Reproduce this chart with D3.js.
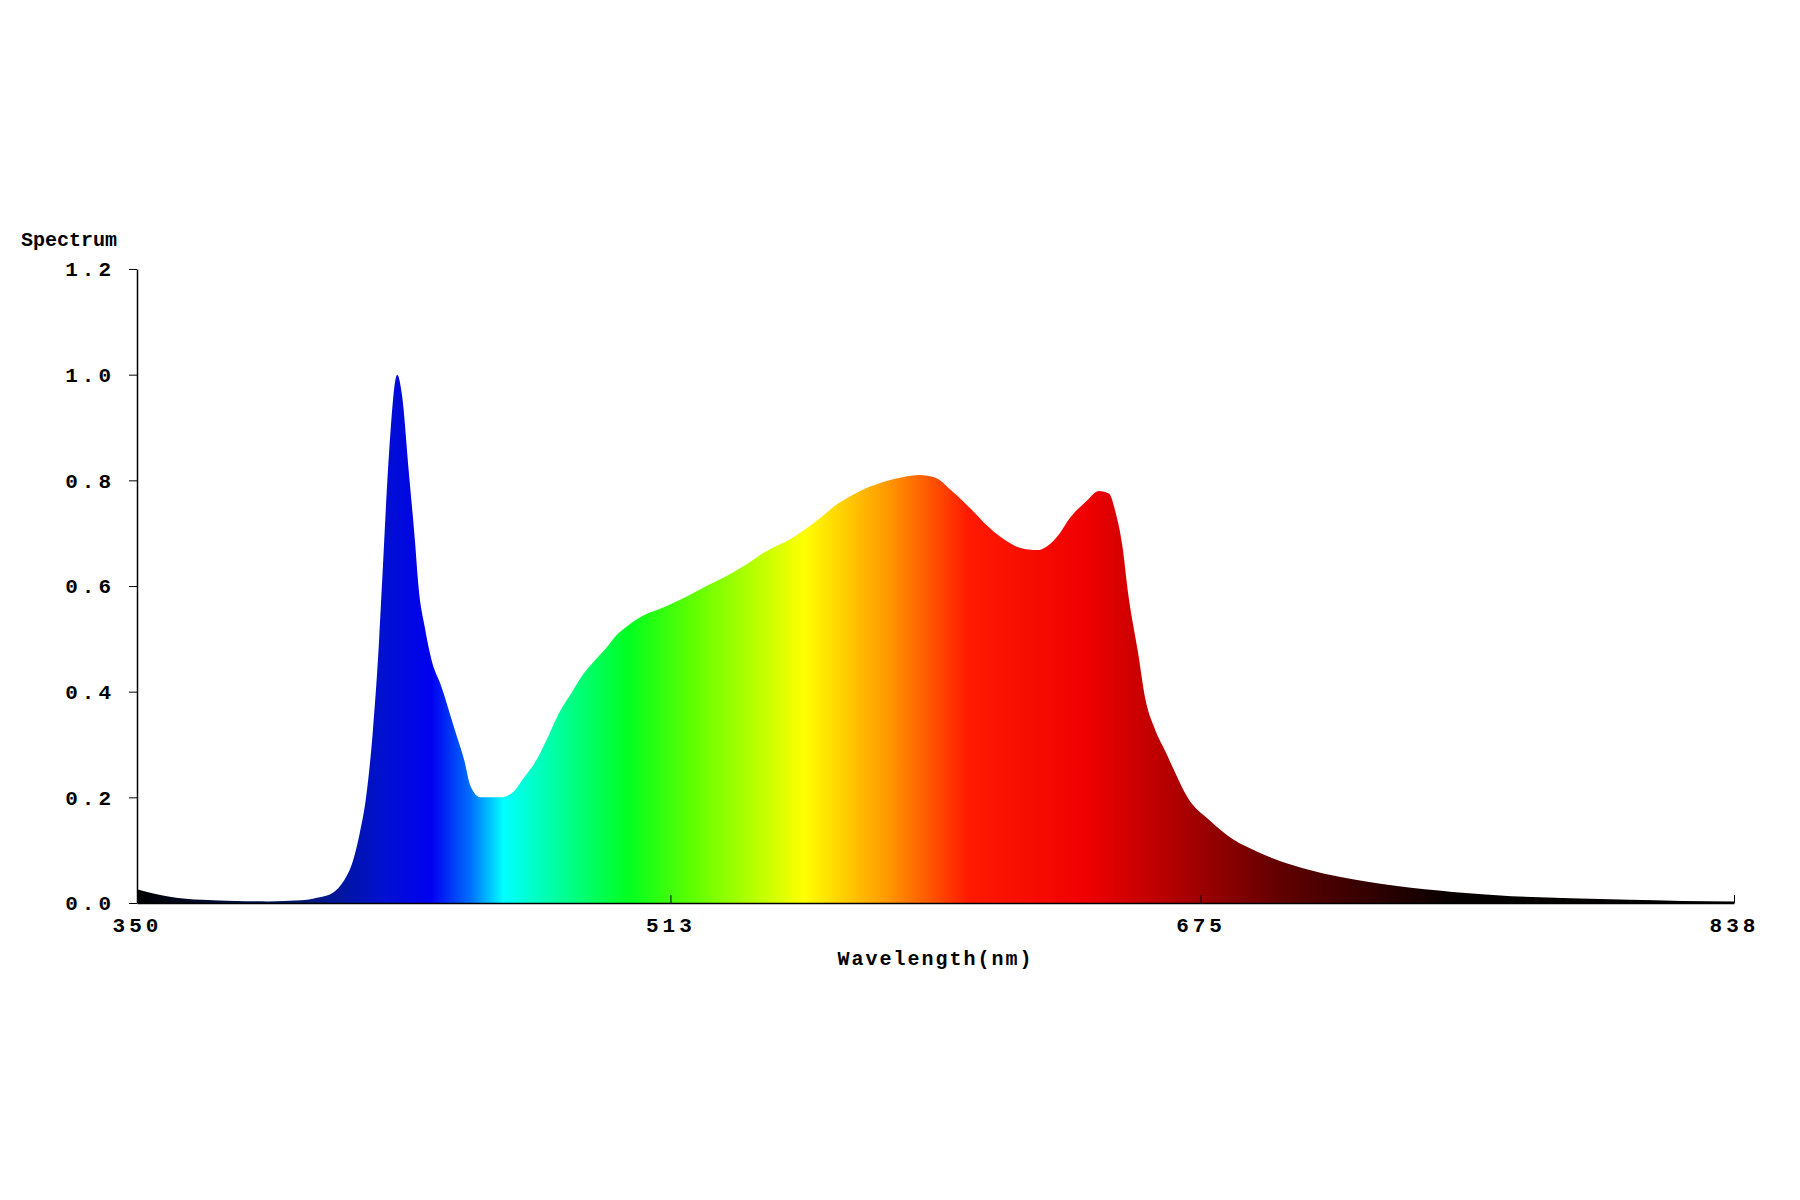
<!DOCTYPE html>
<html><head><meta charset="utf-8">
<script src="https://cdn.jsdelivr.net/npm/d3@7"></script>
<style>body{margin:0;background:#fff}text{font-family:"Liberation Mono",monospace;font-weight:bold}</style>
</head><body><svg id="chart" width="1800" height="1200"></svg>
<script>
// wavelength (nm) and relative spectrum values
var wavelengths = [350,355,360,370,380,390,400,405,410,413,416,418,420,422,424,425,427,429.5,431,433,435,436,438,440,443,447,450,452,455,457.5,461,465,468,472,476,479,483,486,490,493,497,500,505,511,518,524,529,536,542,550,557,564,571,578,584,589,594,599,605,610,615,620,625,628,632,635,640,644,647,649,651,653,656,658,661,664,667,671,678,685,692,699,708,717,726,735,752,770,788,806,822,838];
var spectrum =    [0.026,0.018,0.012,0.006,0.004,0.003,0.005,0.01,0.02,0.04,0.08,0.13,0.2,0.32,0.5,0.62,0.85,1.0,0.96,0.82,0.68,0.6,0.52,0.46,0.41,0.33,0.27,0.22,0.2,0.2,0.2,0.21,0.235,0.27,0.32,0.36,0.40,0.43,0.46,0.48,0.51,0.525,0.545,0.56,0.58,0.6,0.615,0.64,0.665,0.69,0.72,0.755,0.78,0.797,0.806,0.81,0.805,0.78,0.745,0.713,0.688,0.672,0.668,0.675,0.7,0.728,0.76,0.78,0.775,0.74,0.68,0.58,0.47,0.39,0.33,0.29,0.25,0.2,0.155,0.12,0.098,0.08,0.063,0.05,0.04,0.032,0.021,0.013,0.009,0.006,0.004,0.003];
var xTicks = [350,513,675,838];
var yTicks = [0,0.2,0.4,0.6,0.8,1.0,1.2];
// colour of the fill at each wavelength
var stopNm =     [350,400,425,440,452,462,478,500,520,554,579,604,640,664,700,753,838];
var stopColor =  ["#000","#001a6e","#0010d0","#0000f0","#0070ff","#00ffff","#00ffa0","#00ff20","#60ff00","#ffff00","#ff9a00","#ff1a00","#f00000","#b80000","#600000","#050000","#000"];

var svg = d3.select("#chart");
var m = {left:137, right:1734, top:269, bottom:903};
var x = d3.scaleLinear().domain([350,838]).range([m.left,m.right]);
var y = d3.scaleLinear().domain([0,1.2]).range([m.bottom,m.top]);

var grad = svg.append("defs").append("linearGradient").attr("id","spec")
  .attr("gradientUnits","userSpaceOnUse").attr("x1",x(350)).attr("x2",x(838)).attr("y1",0).attr("y2",0);
stopNm.forEach(function(nm,i){
  grad.append("stop").attr("offset",(nm-350)/488).attr("stop-color",stopColor[i]);
});

var data = wavelengths.map(function(w,i){return {w:w,v:spectrum[i]};});
var area = d3.area().x(d=>x(d.w)).y0(y(0)).y1(d=>y(d.v)).curve(d3.curveMonotoneX);
svg.append("path").datum(data).attr("d",area).attr("fill","url(#spec)");

// axes
var yAxis = svg.append("g").attr("transform","translate("+m.left+",0)")
  .call(d3.axisLeft(y).tickValues(yTicks).tickFormat(d3.format(".1f")).tickSize(8).tickSizeOuter(0));
var xAxis = svg.append("g").attr("transform","translate(0,"+m.bottom+")")
  .call(d3.axisBottom(x).tickValues(xTicks).tickSize(8).tickSizeOuter(0));
[xAxis,yAxis].forEach(function(a){
  a.select(".domain").attr("stroke","#000").attr("stroke-width",1.5);
  a.selectAll("text").attr("font-size",21).attr("fill","#000").style("letter-spacing","4px");
});
yAxis.selectAll(".tick text").attr("x",-22);
xAxis.selectAll(".tick line").attr("y2",-8);
xAxis.selectAll(".tick text").attr("y",14);

svg.append("text").attr("x",21).attr("y",246).attr("font-size",20).text("Spectrum");
svg.append("text").attr("x",x(594)).attr("y",965).attr("text-anchor","middle")
  .attr("font-size",20).style("letter-spacing","2px").text("Wavelength(nm)");
</script></body></html>
